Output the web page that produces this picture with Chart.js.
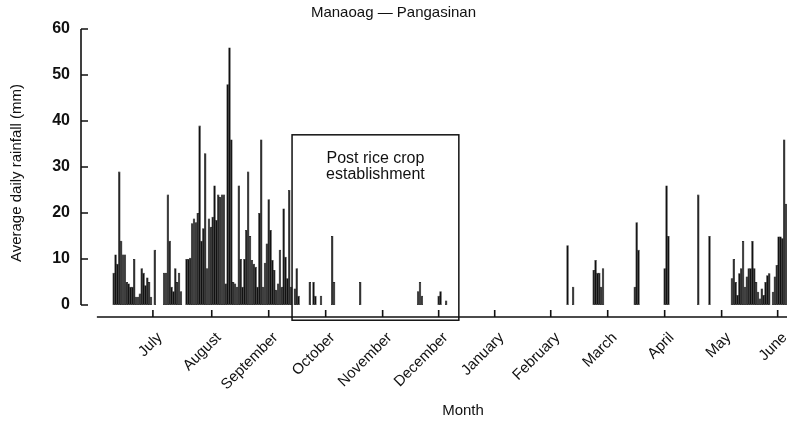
<!DOCTYPE html>
<html>
<head>
<meta charset="utf-8">
<script src="https://cdn.jsdelivr.net/npm/chart.js@4.4.1/dist/chart.umd.min.js"></script>
<style>
  html, body { margin: 0; padding: 0; background: #fff; }
  #wrap { width: 787px; height: 426px; }
</style>
</head>
<body>
<div id="wrap"><canvas id="rain" width="787" height="426"></canvas></div>
<script>
'use strict';

// ===== データ =====

// 日番号（0 = 軸の左端）と日平均降雨量 (mm)。雨のない日は省略
const rainDays = [
    17, 18, 19, 20, 21, 22, 23, 24, 25, 26, 27, 28, 29, 30, 31, 32, 33, 34, 35, 36, 37, 39,
    44, 45, 46, 47, 48, 49, 50, 51, 52, 53,
    56, 57, 58, 59, 60, 61, 62, 63, 64, 65, 66, 67, 68, 69, 70, 71, 72, 73, 74, 75, 76, 77,
    78, 79, 80, 81, 82, 83, 84, 85, 86, 87, 88, 89, 90, 91, 92, 93, 94, 95, 96, 97, 98, 99,
    100, 101, 102, 103, 104, 105, 106, 107, 108, 109, 110, 111, 112,
    114, 115, 116, 122, 124, 125, 128, 134, 135, 149, 180, 181, 182, 191, 192, 195,
    260, 263, 274, 275, 276, 277, 278, 279, 296, 297, 298, 312, 313, 314, 330, 336,
    348, 349, 350, 351, 352, 353, 354, 355, 356, 357, 358, 359, 360, 361, 362, 363, 364,
    365, 366, 367, 368, 370, 371, 372, 373, 374, 375, 376, 377,
];
const rainMm = [
    7, 11, 9, 29, 14, 11, 11, 5, 4.7, 4, 4, 10, 1.8, 1.8, 2.5, 8, 7, 4.3, 6, 5, 1.8, 12,
    7, 7, 24, 14, 4, 3, 8, 5, 7, 3,
    10, 10, 10.3, 17.8, 18.8, 18, 20, 39, 14, 16.7, 33, 8, 18.8, 17, 19.2, 26, 18.5, 24, 23.5, 24, 24, 4.7,
    48, 56, 36, 5, 4.7, 4, 26, 10, 4, 10, 16.3, 29, 15, 9.8, 9, 8.3, 4, 20, 36, 4, 9.2, 13.4,
    23, 16.3, 9.8, 7.6, 3.3, 4.7, 12, 4, 21, 10.5, 5.8, 25, 4,
    3.6, 8, 2, 5, 5, 2, 2, 15, 5, 5, 3, 5, 2, 2, 3, 1,
    13, 4, 7.6, 9.8, 7, 7, 4, 8, 4, 18, 12, 8, 26, 15, 24, 15,
    5.8, 10, 5, 2.2, 6.9, 8, 13.9, 4, 6.2, 8, 8, 13.9, 8, 5, 2.9, 1.4, 3.6,
    2.2, 5, 6.5, 6.9, 2.9, 6.2, 8.7, 14.9, 14.9, 14.5, 36, 22,
];

const monthLabels = [
    'July', 'August', 'September', 'October', 'November', 'December',
    'January', 'February', 'March', 'April', 'May', 'June',
];
const monthTicks = [38, 69.5, 100, 130.5, 161, 191, 221, 251, 281.5, 312, 342.5, 372.5];
const yTicks = [0, 10, 20, 30, 40, 50, 60];

// 「Post rice crop establishment」の枠（日番号, mm）
const boxDays = [112.5, 201.8];
const boxMm = [37, -3.3];
const boxText = ['Post rice crop', 'establishment'];

const FONT = "'Liberation Sans', Arial, Helvetica, sans-serif";
const INK = '#111';

Chart.defaults.font.family = FONT;
Chart.defaults.color = INK;

// ===== 軸線・目盛・枠 =====

const frameLines = {
    id: 'frameLines',
    afterDatasetsDraw(chart) {
        const { ctx, chartArea, scales: { x, y } } = chart;
        ctx.save();
        ctx.strokeStyle = INK;
        ctx.lineWidth = 1.6;

        // 縦軸（0〜60、目盛は内向き）
        const ax = chartArea.left;
        ctx.beginPath();
        ctx.moveTo(ax, y.getPixelForValue(60));
        ctx.lineTo(ax, y.getPixelForValue(0));
        yTicks.forEach(v => {
            const py = y.getPixelForValue(v);
            ctx.moveTo(ax, py);
            ctx.lineTo(ax + 7, py);
        });
        ctx.stroke();

        // 横軸（ゼロより少し下）
        const by = chartArea.bottom;
        ctx.beginPath();
        ctx.moveTo(x.getPixelForValue(8), by);
        ctx.lineTo(chartArea.right, by);
        monthTicks.forEach(v => {
            const px = x.getPixelForValue(v);
            ctx.moveTo(px, by);
            ctx.lineTo(px, by - 7);
        });
        ctx.stroke();

        // 枠
        const l = x.getPixelForValue(boxDays[0]);
        const r = x.getPixelForValue(boxDays[1]);
        const t = y.getPixelForValue(boxMm[0]);
        const b = y.getPixelForValue(boxMm[1]);
        ctx.lineWidth = 1.5;
        ctx.strokeRect(l, t, r - l, b - t);

        ctx.fillStyle = INK;
        ctx.font = `16px ${FONT}`;
        ctx.textAlign = 'center';
        ctx.textBaseline = 'middle';
        boxText.forEach((s, i) => ctx.fillText(s, (l + r) / 2, t + 24 + i * 16));

        // 横軸タイトル
        ctx.font = `15px ${FONT}`;
        ctx.fillText('Month', 463, 411);
        ctx.restore();
    },
};

// ===== グラフ =====

const ctx = document.getElementById('rain').getContext('2d');
new Chart(ctx, {
    type: 'bar',
    data: {
        datasets: [{
            data: rainDays.map((d, i) => ({ x: d, y: rainMm[i] })),
            backgroundColor: INK,
            borderColor: INK,
            borderWidth: 0.6,
            borderSkipped: false,
            barPercentage: 1.3,
            categoryPercentage: 1,
        }],
    },
    options: {
        responsive: false,
        devicePixelRatio: 1,
        animation: false,
        layout: { padding: 0 },
        plugins: {
            legend: { display: false },
            tooltip: { enabled: false },
            title: {
                display: true,
                text: 'Manaoag \u2014 Pangasinan',
                font: { size: 15, weight: 'normal' },
                color: INK,
                padding: { top: 4, bottom: 7 },
            },
        },
        scales: {
            x: {
                type: 'linear',
                min: -0.5,
                max: 377.5,
                offset: false,
                grid: { display: false },
                border: { display: false },
                afterBuildTicks: s => { s.ticks = monthTicks.map(v => ({ value: v })); },
                afterFit: s => {
                    s.height = 109;
                    s.paddingLeft = 0;
                    s.paddingRight = 0;
                },
                ticks: {
                    autoSkip: false,
                    minRotation: 45,
                    maxRotation: 45,
                    labelOffset: 7,
                    padding: 4,
                    font: { size: 15 },
                    color: INK,
                    callback: (v, i) => monthLabels[i],
                },
            },
            y: {
                min: -2.6,
                max: 60,
                grid: { display: false, drawTicks: false },
                border: { display: false },
                afterBuildTicks: s => { s.ticks = yTicks.map(v => ({ value: v })); },
                afterFit: s => {
                    s.width = 81;
                    s.paddingTop = 0;
                    s.paddingBottom = 0;
                },
                ticks: {
                    padding: 11,
                    font: { size: 16, weight: 'bold' },
                    color: INK,
                },
                title: {
                    display: true,
                    text: 'Average daily rainfall (mm)',
                    font: { size: 15 },
                    color: INK,
                    padding: { top: 8, bottom: 0 },
                },
            },
        },
    },
    plugins: [frameLines],
});
</script>
</body>
</html>
